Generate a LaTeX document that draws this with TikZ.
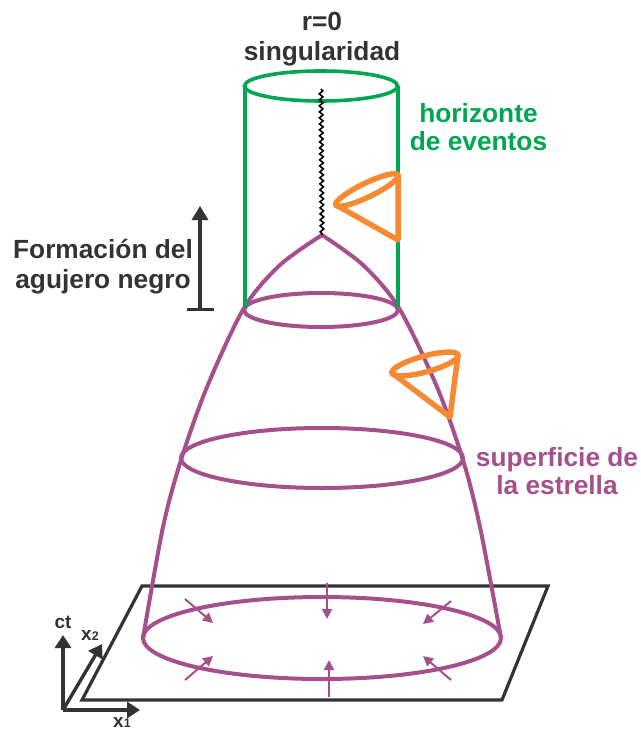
\documentclass[tikz,border=0pt]{standalone}
\usepackage{fontspec}
\setmainfont{Liberation Sans}
\usetikzlibrary{arrows.meta,decorations.pathmorphing}
\definecolor{pur}{RGB}{165,80,140}
\definecolor{grn}{RGB}{0,166,81}
\definecolor{org}{RGB}{245,138,50}
\definecolor{dk}{RGB}{51,51,51}
\begin{document}
\begin{tikzpicture}[x=1pt,y=-1pt,
 surf/.style={draw=pur,line width=4pt},
 horiz/.style={draw=grn,line width=3.6pt},
 conestyle/.style={draw=org,line width=5.5pt,line join=round},
 planestyle/.style={draw=dk,line width=3.2pt,line join=miter},
 inarrow/.style={draw=pur,line width=2pt,-{Triangle[length=10pt,width=10pt]}},
 axisarrow/.style={draw=dk,line width=3.4pt,-{Triangle[length=13pt,width=16pt]}},
 lbl/.style={font=\fontsize{26.3}{#1}\selectfont\bfseries,align=center,inner sep=0pt,anchor=base},
 lbl/.default=30,
 axlbl/.style={font=\fontsize{19}{20}\selectfont\bfseries,text=dk,inner sep=0pt,anchor=base},
]
\useasboundingbox (0,0) rectangle (640,731);
% plane
\coordinate (p1) at (142,586);
\coordinate (p2) at (548,586);
\coordinate (p3) at (502,700);
\coordinate (p4) at (82,700);
\draw[planestyle] (p1) -- (p2) -- (p3) -- (p4) -- cycle;
% bottom ellipse
\coordinate (ebot) at (322,638);
\draw[surf] (ebot) ellipse [x radius=179, y radius=41];
% inward arrows
\coordinate (a1s) at (185,599); \coordinate (a1e) at (213,623);
\coordinate (a2s) at (185,680); \coordinate (a2e) at (213,656);
\coordinate (a3s) at (327,583); \coordinate (a3e) at (327,619);
\coordinate (a4s) at (329,697); \coordinate (a4e) at (329,660);
\coordinate (a5s) at (451,601); \coordinate (a5e) at (423,624);
\coordinate (a6s) at (451,680); \coordinate (a6e) at (423,656);
\foreach \s/\e in {a1s/a1e,a2s/a2e,a3s/a3e,a4s/a4e,a5s/a5e,a6s/a6e}
  \draw[inarrow] (\s) -- (\e);
% surface of the star
\coordinate (apex) at (322,235);
\draw[surf,line join=miter] plot[smooth] coordinates {(143,638) (163,527) (181,460) (207,387) (244,308) (280,265) (322,235)}
   -- plot[smooth] coordinates {(322,235) (363,265) (399,308) (437,387) (463,460) (480,527) (501,638)};
\coordinate (emid) at (322,458);
\draw[surf] (emid) ellipse [x radius=141, y radius=30];
\coordinate (eup) at (321,310);
\draw[surf] (eup) ellipse [x radius=77, y radius=17];
% event horizon cylinder
\coordinate (ctop) at (321,86);
\coordinate (cl1) at (245,86); \coordinate (cl2) at (245,307);
\coordinate (cr1) at (398,86); \coordinate (cr2) at (398,307);
\draw[horiz] (ctop) ellipse [x radius=76.5, y radius=15];
\draw[horiz] (cl1) -- (cl2);
\draw[horiz] (cr1) -- (cr2);
% singularity
\coordinate (singtop) at (321,89);
\draw[line width=1.6pt,decorate,decoration={snake,segment length=6pt,amplitude=1.8pt}] (singtop) -- (apex);
% light cones
\coordinate (k1l) at (336,205); \coordinate (k1r) at (398,175); \coordinate (k1a) at (398,240);
\draw[conestyle] plot[domain=0:360,samples=91,variable=\t] ({367+31.05*cos(\t)+3.045*sin(\t)},{190-15*cos(\t)+6.3*sin(\t)}) -- cycle;
\draw[conestyle] (k1l) -- (k1a) -- (k1r);
\coordinate (k2l) at (392,373); \coordinate (k2r) at (458,355); \coordinate (k2a) at (450,417);
\draw[conestyle] plot[domain=0:360,samples=91,variable=\t] ({425+33*cos(\t)+2.1*sin(\t)},{364-9*cos(\t)+7.72*sin(\t)}) -- cycle;
\draw[conestyle] (k2l) -- (k2a) -- (k2r);
% formation arrow
\coordinate (fbot) at (200,311);
\coordinate (ftop) at (200,206);
\draw[draw=dk,line width=3.2pt,{Bar[width=27pt]}-{Triangle[length=14pt,width=16pt]}] (fbot) -- (ftop);
% axes
\coordinate (O) at (63,710);
\coordinate (ct) at (63,635);
\coordinate (x1) at (140,710);
\coordinate (x2) at (102,644);
\draw[axisarrow] (O) -- (ct);
\draw[axisarrow] (O) -- (x1);
\draw[axisarrow] (O) -- (x2);
\node[axlbl] (lct) at (63,628) {ct};
\node[axlbl] (lx2) at (90,640) {x{\fontsize{12.5}{12}\selectfont 2}};
\node[axlbl] (lx1) at (122,727) {x{\fontsize{12.5}{12}\selectfont 1}};
% labels
\node[lbl=30,text=dk] (lsing) at (322,60) {r=0\\singularidad};
\node[lbl=28,text=grn] (lhor) at (478.5,150) {horizonte\\de eventos};
\node[lbl=30,text=dk] (lform) at (103,288) {Formación del\\agujero negro};
\node[lbl=28,text=pur] (lsurf) at (557,494) {superficie de\\la estrella};
\end{tikzpicture}
\end{document}
